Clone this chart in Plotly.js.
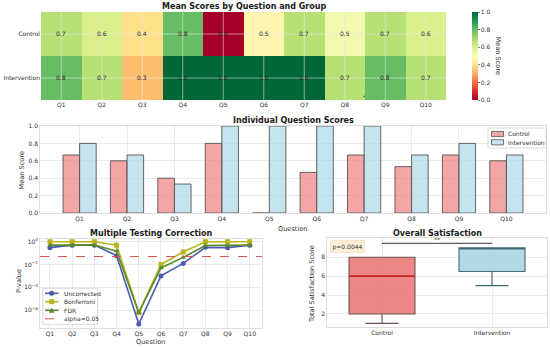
<!DOCTYPE html>
<html>
<head>
<meta charset="utf-8">
<script src="https://cdn.plot.ly/plotly-3.0.1.min.js"></script>
<style>html,body{margin:0;padding:0;background:#fff}#chart{width:550px;height:348px}</style>
</head>
<body>
<div id="chart"></div>
<script>
// ---------------- DATA ----------------
const questions = ['Q1','Q2','Q3','Q4','Q5','Q6','Q7','Q8','Q9','Q10'];
const groups = ['Control','Intervention'];
const controlMeans = [0.667,0.6,0.4,0.8,0.0,0.467,0.667,0.533,0.667,0.6];
const interventionMeans = [0.8,0.667,0.333,1.0,1.0,1.0,1.0,0.667,0.8,0.667];
const pUncorrected = [0.3,0.5,0.5,0.06,6e-8,0.001,0.0125,0.32,0.3,0.5];
const pBonferroni = [1,1,1,0.5,6e-7,0.01,0.125,1,1,1];
const pFDR = [0.5,0.5,0.5,0.15,6e-7,0.005,0.042,0.46,0.46,0.5];
const alphaLevel = 0.05;
const sigQuestions = ['Q5','Q6','Q7'];
const sigStars = ['***','**','*'];
const boxGroups = ['Control','Intervention'];
const boxQ1 = [2, 6.5];
const boxMedian = [6, 9];
const boxQ3 = [8, 9];
const boxLower = [1, 5];
const boxUpper = [8, 9];
const overallP = 'p=0.0044';
const overallStars = '**';
const testNames = ['Uncorrected','Bonferroni','FDR'];

// ---------------- STYLE ----------------
const FONT = 'DejaVu Sans, Verdana, sans-serif';
const GRID = '#e6e6e6';
const SPINE = '#d6d6d6';
const TICKF = {size: 6, color: '#333', family: FONT};
const rdylgn = [
  [0.0,'#a50026'],[0.1,'#d73027'],[0.2,'#f46d43'],[0.3,'#fdae61'],[0.4,'#fee08b'],
  [0.5,'#ffffbf'],[0.6,'#d9ef8b'],[0.7,'#a6d96a'],[0.8,'#66bd63'],[0.9,'#1a9850'],[1.0,'#006837']
];
const barFill = ['rgba(240,128,128,0.7)', 'rgba(173,216,230,0.7)'];
const testColors = ['#4a5bb0', '#b9b41c', '#5a8a28'];
const testSymbols = ['circle', 'square', 'triangle-up'];
const alphaColor = '#d9534f';
const px = v => v / 550;
const py = v => 1 - v / 348;

const traces = [];
// Heatmap
const heatZ = [controlMeans, interventionMeans];
traces.push({
  type: 'heatmap', x: questions, y: groups, z: heatZ,
  zmin: 0, zmax: 1, colorscale: rdylgn,
  xaxis: 'x', yaxis: 'y', showscale: true,
  colorbar: {x: px(472), xanchor: 'left', xpad: 0, ypad: 0, y: py(56), yanchor: 'middle',
    len: 88, lenmode: 'pixels', thickness: 6, outlinewidth: 0,
    ticks: 'outside', ticklen: 2, tickwidth: 0.8, tickcolor: '#555',
    tickvals: [0,0.2,0.4,0.6,0.8,1.0], tickformat: '.1f', tickfont: TICKF},
  hoverinfo: 'skip'
});
// Bars
[controlMeans, interventionMeans].forEach((arr, i) => traces.push({type: 'bar', name: groups[i], x: questions, y: arr,
  xaxis: 'x2', yaxis: 'y2', showlegend: false,
  marker: {color: barFill[i], line: {color: '#555', width: 0.9}}}));
// Multiple testing
[pUncorrected, pBonferroni, pFDR].forEach((arr, i) => traces.push({type: 'scatter', mode: 'lines+markers', name: testNames[i],
  x: questions, y: arr, xaxis: 'x3', yaxis: 'y3', showlegend: false,
  line: {color: testColors[i], width: 1.6}, marker: {color: testColors[i], size: 5, symbol: testSymbols[i]}}));
// Box plot
const boxFill = ['rgba(236,128,128,0.95)', 'rgba(173,216,230,0.95)'];
const boxEdge = ['#6a5650', '#3f6b72'];
boxGroups.forEach((g, i) => traces.push({type: 'box', name: g, x: [i],
  q1: [boxQ1[i]], median: [boxMedian[i]], q3: [boxQ3[i]],
  lowerfence: [boxLower[i]], upperfence: [boxUpper[i]],
  width: 0.6, whiskerwidth: 0.5, fillcolor: boxFill[i],
  line: {color: boxEdge[i], width: 1.1}, xaxis: 'x4', yaxis: 'y4', showlegend: false, hoverinfo: 'skip'}));
traces.push({type: 'scatter', mode: 'lines', x: [-0.3, 0.3], y: [boxMedian[0], boxMedian[0]],
  xaxis: 'x4', yaxis: 'y4', line: {color: '#e01010', width: 1.4}, showlegend: false, hoverinfo: 'skip'});

// ---------------- SHAPES & ANNOTATIONS ----------------
const shapes = [];
const ann = [];
questions.forEach((q, i) => shapes.push({type: 'line', xref: 'x', yref: 'y domain', x0: i, x1: i, y0: 0, y1: 1,
  line: {color: 'rgba(235,235,235,0.55)', width: 1}, layer: 'above'}));
groups.forEach((g, i) => shapes.push({type: 'line', xref: 'x domain', yref: 'y', x0: 0, x1: 1, y0: i, y1: i,
  line: {color: 'rgba(235,235,235,0.55)', width: 1}, layer: 'above'}));
// heatmap cell labels
groups.forEach((g, r) => questions.forEach((q, c) => ann.push({text: heatZ[r][c].toFixed(1), xref: 'x', yref: 'y', x: q, y: g,
  showarrow: false, font: {size: 6, color: '#1e1e1e', family: FONT}})));
shapes.push({type: 'line', xref: 'x3 domain', yref: 'y3', x0: 0, x1: 1, y0: alphaLevel, y1: alphaLevel,
  line: {color: alphaColor, width: 1, dash: 'dash'}});
const bracketY = Math.max(...boxUpper) + 0.48;
shapes.push({type: 'line', xref: 'x4', yref: 'y4', x0: 0, x1: 1, y0: bracketY, y1: bracketY,
  line: {color: '#333', width: 1}});

const title = (t, x, y) => ann.push({text: '<b>' + t + '</b>', xref: 'paper', yref: 'paper', x: x, y: y,
  xanchor: 'center', yanchor: 'middle', showarrow: false, font: {size: 8, color: '#1a1a1a', family: FONT}});
title('Mean Scores by Question and Group', px(243.5), py(6.5));
title('Individual Question Scores', px(293), py(120));
title('Multiple Testing Correction', px(151), py(233.5));
title('Overall Satisfaction', px(437), py(233.5));
const lab = (t, x, y, ang) => ann.push({text: t, xref: 'paper', yref: 'paper', x: x, y: y, textangle: ang || 0,
  xanchor: 'center', yanchor: 'middle', showarrow: false, font: {size: 6.6, color: '#333', family: FONT}});
lab('Mean Score', px(497.5), py(56), 90);
lab('Mean Score', px(21.5), py(170), -90);
lab('Question', px(293), py(228.5));
lab('P-value', px(18.5), py(281.5), -90);
lab('Question', px(150.7), py(342.3));
lab('Total Satisfaction Score', px(312.7), py(284.3), -90);
// significance stars of the bar panel (they sit above its top edge, over the heatmap)
sigQuestions.forEach((q, i) => ann.push({text: sigStars[i], xref: 'x2', yref: 'paper', x: q, y: py(96.5),
  yanchor: 'middle', showarrow: false, font: {size: 5, color: '#444', family: FONT}}));
ann.push({text: overallStars, xref: 'x4', yref: 'y4', x: 0.5, y: bracketY, yanchor: 'bottom', yshift: -2,
  showarrow: false, font: {size: 6, color: '#333', family: FONT}});
ann.push({text: overallP, xref: 'x4 domain', yref: 'y4 domain', x: 0.015, y: 0.975, xanchor: 'left', yanchor: 'top',
  showarrow: false, bgcolor: 'rgba(245,222,179,0.5)', bordercolor: 'rgba(245,222,179,0.6)', borderpad: 1.5,
  font: {size: 6, color: '#333', family: FONT}});

// ---- compact legends (matplotlib-style) ----
const legText = (t, x, y) => ann.push({text: t, xref: 'paper', yref: 'paper', x: px(x), y: py(y), xanchor: 'left', yanchor: 'middle',
  showarrow: false, font: {size: 6, color: '#333', family: FONT}});
const legBox = (x0, y0, x1, y1) => shapes.push({type: 'rect', xref: 'paper', yref: 'paper', x0: px(x0), x1: px(x1), y0: py(y1), y1: py(y0),
  fillcolor: 'rgba(255,255,255,0.85)', line: {color: '#d0d0d0', width: 0.8}, layer: 'above'});
// bar legend
legBox(488, 128, 546, 148);
groups.forEach((g, i) => {
  const cy = 134 + i * 8.3;
  shapes.push({type: 'rect', xref: 'paper', yref: 'paper', x0: px(491.5), x1: px(503.5), y0: py(cy + 2.6), y1: py(cy - 2.6),
    fillcolor: barFill[i], line: {color: '#555', width: 0.8}, layer: 'above'});
  legText(g, 505.5, cy);
});
// multiple testing legend
legBox(42.7, 288.3, 97.5, 324.3);
const legY = [293.3, 301.7, 310.3, 318.8];
testNames.forEach((n, i) => {
  const cy = legY[i];
  shapes.push({type: 'line', xref: 'paper', yref: 'paper', x0: px(45), x1: px(58.5), y0: py(cy), y1: py(cy),
    line: {color: testColors[i], width: 1.6}, layer: 'above'});
  const cx = 51.7, r = 2.5;
  if (testSymbols[i] === 'circle') shapes.push({type: 'circle', xref: 'paper', yref: 'paper', x0: px(cx - r), x1: px(cx + r), y0: py(cy + r), y1: py(cy - r),
    fillcolor: testColors[i], line: {width: 0}, layer: 'above'});
  else if (testSymbols[i] === 'square') shapes.push({type: 'rect', xref: 'paper', yref: 'paper', x0: px(cx - r), x1: px(cx + r), y0: py(cy + r), y1: py(cy - r),
    fillcolor: testColors[i], line: {width: 0}, layer: 'above'});
  else shapes.push({type: 'path', xref: 'paper', yref: 'paper',
    path: 'M' + px(cx - r - 0.3) + ',' + py(cy + r) + ' L' + px(cx + r + 0.3) + ',' + py(cy + r) + ' L' + px(cx) + ',' + py(cy - r - 0.3) + ' Z',
    fillcolor: testColors[i], line: {width: 0}, layer: 'above'});
  legText(n, 61.5, cy);
});
shapes.push({type: 'line', xref: 'paper', yref: 'paper', x0: px(45), x1: px(58.5), y0: py(legY[3]), y1: py(legY[3]),
  line: {color: alphaColor, width: 1, dash: 'dash'}, layer: 'above'});
legText('alpha=' + alphaLevel, 61.5, legY[3]);

// ---------------- AXES ----------------
const base = {showline: true, mirror: true, linecolor: SPINE, linewidth: 0.8, gridcolor: GRID, gridwidth: 0.8,
  zeroline: false, ticks: '', tickfont: TICKF, automargin: false};
const layout = {
  width: 550, height: 348, margin: {l: 0, r: 0, t: 0, b: 0}, showlegend: false,
  paper_bgcolor: '#fff', plot_bgcolor: '#fff', font: {family: FONT, size: 6, color: '#333'},
  barmode: 'group', bargap: 0.3, bargroupgap: 0, boxmode: 'overlay',
  xaxis: {domain: [px(41), px(446)], anchor: 'y', showgrid: false, showline: false, ticks: '', tickfont: TICKF, zeroline: false},
  yaxis: {domain: [py(100), py(12)], anchor: 'x', autorange: 'reversed', showgrid: false, showline: false, ticks: '', tickfont: TICKF, zeroline: false},
  xaxis2: Object.assign({}, base, {domain: [px(40), px(546)], anchor: 'y2', type: 'category', range: [-0.835, 9.835]}),
  yaxis2: Object.assign({}, base, {domain: [py(213), py(126)], anchor: 'x2', range: [0, 1.0], tickvals: [0,0.2,0.4,0.6,0.8,1.0], tickformat: '.1f'}),
  xaxis3: Object.assign({}, base, {domain: [px(40), px(262)], anchor: 'y3', type: 'category', range: [-0.45, 9.55]}),
  yaxis3: Object.assign({}, base, {domain: [py(328), py(239)], anchor: 'x3', type: 'log', range: [-7.57, 0.237],
    tickvals: [1, 1e-2, 1e-4, 1e-6], ticktext: ['10<sup>0</sup>','10<sup>−2</sup>','10<sup>−4</sup>','10<sup>−6</sup>']}),
  xaxis4: Object.assign({}, base, {domain: [px(327), px(547)], anchor: 'y4', range: [-0.5, 1.5], tickvals: [0, 1], ticktext: boxGroups}),
  yaxis4: Object.assign({}, base, {domain: [py(327), py(238)], anchor: 'x4', range: [0.62, 10.04], tickvals: [2,4,6,8]}),
  shapes: shapes, annotations: ann
};
Plotly.newPlot('chart', traces, layout, {staticPlot: true, displayModeBar: false});
</script>
</body>
</html>
